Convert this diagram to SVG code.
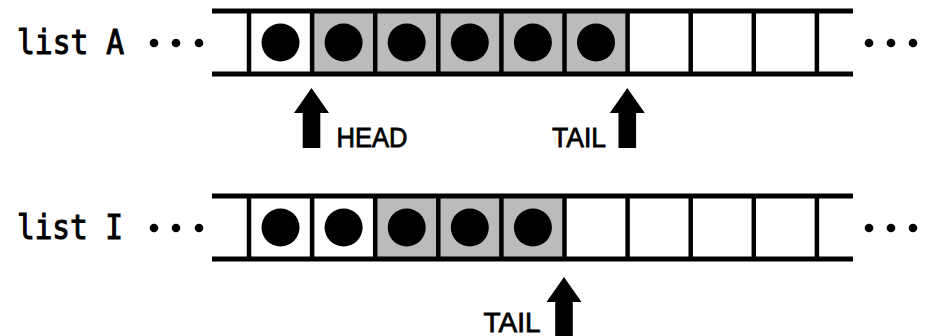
<svg xmlns="http://www.w3.org/2000/svg" width="926" height="336" viewBox="0 0 926 336">
  <defs>
    <style>
      .rail { stroke: #000; stroke-width: 5; fill: none; }
      .wall { stroke: #000; stroke-width: 4.5; fill: none; }
      .busy { fill: #bbbbbb; }
      .item { fill: #000; }
      .dot { fill: #000; }
      .name { font-family: "DejaVu Sans Mono", "Liberation Mono", monospace; font-size: 34px; fill: #000; stroke: #000; stroke-width: 1.1; }
      .tag { font-family: "Liberation Sans", Arial, sans-serif; font-size: 28px; fill: #000; stroke: #000; stroke-width: 0.8; }
      .ptr { fill: #000; }
    </style>
    <!-- one block pointer: tip at (0,0), pointing up -->
    <path id="up" d="M0 0 L17.5 25 L8.8 25 L8.8 60 L-8.8 60 L-8.8 25 L-17.5 25 Z"/>
  </defs>

  <!-- list A: buffer of nine slots -->
  <g id="listA">
    <text class="name" x="17" y="54" textLength="107" lengthAdjust="spacingAndGlyphs">list A</text>
    <circle class="dot" cx="154" cy="43" r="4.3"/>
    <circle class="dot" cx="176" cy="43" r="4.3"/>
    <circle class="dot" cx="199" cy="43" r="4.3"/>
    <rect class="busy" x="312" y="11" width="316" height="63"/>
    <line class="rail" x1="212" y1="11" x2="853" y2="11"/>
    <line class="rail" x1="212" y1="74" x2="853" y2="74"/>
    <g class="wall">
      <line x1="249" y1="11" x2="249" y2="74"/>
      <line x1="312.1" y1="11" x2="312.1" y2="74"/>
      <line x1="375.2" y1="11" x2="375.2" y2="74"/>
      <line x1="438.3" y1="11" x2="438.3" y2="74"/>
      <line x1="501.4" y1="11" x2="501.4" y2="74"/>
      <line x1="564.5" y1="11" x2="564.5" y2="74"/>
      <line x1="627.6" y1="11" x2="627.6" y2="74"/>
      <line x1="690.7" y1="11" x2="690.7" y2="74"/>
      <line x1="753.8" y1="11" x2="753.8" y2="74"/>
      <line x1="816.9" y1="11" x2="816.9" y2="74"/>
    </g>
    <circle class="item" cx="280.5" cy="42.5" r="19"/>
    <circle class="item" cx="343.6" cy="42.5" r="19"/>
    <circle class="item" cx="406.7" cy="42.5" r="19"/>
    <circle class="item" cx="469.8" cy="42.5" r="19"/>
    <circle class="item" cx="532.9" cy="42.5" r="19"/>
    <circle class="item" cx="596" cy="42.5" r="19"/>
    <circle class="dot" cx="869" cy="43" r="4.3"/>
    <circle class="dot" cx="891" cy="43" r="4.3"/>
    <circle class="dot" cx="913" cy="43" r="4.3"/>
  </g>

  <!-- list I: buffer of nine slots -->
  <g id="listI">
    <text class="name" x="17" y="239" textLength="106" lengthAdjust="spacingAndGlyphs">list I</text>
    <circle class="dot" cx="154" cy="228" r="4.3"/>
    <circle class="dot" cx="176" cy="228" r="4.3"/>
    <circle class="dot" cx="199" cy="228" r="4.3"/>
    <rect class="busy" x="375.2" y="196" width="189.3" height="63"/>
    <line class="rail" x1="212" y1="196" x2="853" y2="196"/>
    <line class="rail" x1="212" y1="259" x2="853" y2="259"/>
    <g class="wall">
      <line x1="249" y1="196" x2="249" y2="259"/>
      <line x1="312.1" y1="196" x2="312.1" y2="259"/>
      <line x1="375.2" y1="196" x2="375.2" y2="259"/>
      <line x1="438.3" y1="196" x2="438.3" y2="259"/>
      <line x1="501.4" y1="196" x2="501.4" y2="259"/>
      <line x1="564.5" y1="196" x2="564.5" y2="259"/>
      <line x1="627.6" y1="196" x2="627.6" y2="259"/>
      <line x1="690.7" y1="196" x2="690.7" y2="259"/>
      <line x1="753.8" y1="196" x2="753.8" y2="259"/>
      <line x1="816.9" y1="196" x2="816.9" y2="259"/>
    </g>
    <circle class="item" cx="280.5" cy="227.5" r="19"/>
    <circle class="item" cx="343.6" cy="227.5" r="19"/>
    <circle class="item" cx="406.7" cy="227.5" r="19"/>
    <circle class="item" cx="469.8" cy="227.5" r="19"/>
    <circle class="item" cx="532.9" cy="227.5" r="19"/>
    <circle class="dot" cx="869" cy="228" r="4.3"/>
    <circle class="dot" cx="891" cy="228" r="4.3"/>
    <circle class="dot" cx="913" cy="228" r="4.3"/>
  </g>

  <!-- pointers into the buffers -->
  <g id="pointers">
    <g id="headA">
      <use href="#up" class="ptr" x="311.5" y="88"/>
      <text class="tag" x="336.5" y="147" textLength="71" lengthAdjust="spacingAndGlyphs">HEAD</text>
    </g>
    <g id="tailA">
      <use href="#up" class="ptr" x="627.3" y="88"/>
      <text class="tag" x="552" y="147" textLength="54" lengthAdjust="spacingAndGlyphs">TAIL</text>
    </g>
    <g id="tailI">
      <use href="#up" class="ptr" x="564" y="277"/>
      <text class="tag" x="483.5" y="332" textLength="57" lengthAdjust="spacingAndGlyphs">TAIL</text>
    </g>
  </g>
</svg>
